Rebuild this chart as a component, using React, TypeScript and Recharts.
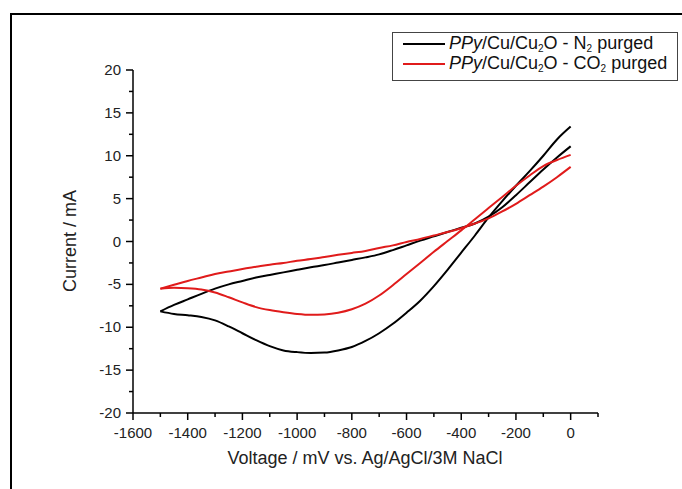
import { Label, Line, LineChart, XAxis, YAxis } from "recharts"

// potential steps (mV) for the two halves of each sweep
const vDown = [0, -50, -100, -150, -200, -250, -300, -350, -400, -450, -500, -550, -600, -650, -700, -750, -800, -850, -900, -950, -1000, -1050, -1100, -1150, -1200, -1250, -1300, -1350, -1400, -1450, -1500]
const vUp = [-1500, -1450, -1400, -1350, -1300, -1250, -1200, -1150, -1100, -1050, -1000, -950, -900, -850, -800, -750, -700, -650, -600, -550, -500, -450, -400, -350, -300, -250, -200, -150, -100, -50, 0]

// N2 purged (mA)
const n2Cathodic = [13.4, 11.9, 10.0, 8.2, 6.5, 4.7, 2.8, 0.7, -1.3, -3.3, -5.2, -6.9, -8.3, -9.6, -10.7, -11.6, -12.3, -12.7, -12.95, -13.0, -12.9, -12.7, -12.2, -11.5, -10.7, -9.9, -9.2, -8.8, -8.6, -8.45, -8.15]
const n2Anodic = [-8.15, -7.4, -6.75, -6.1, -5.5, -5.0, -4.6, -4.2, -3.9, -3.6, -3.3, -3.0, -2.75, -2.45, -2.15, -1.85, -1.5, -1.0, -0.45, 0.1, 0.6, 1.1, 1.6, 2.1, 2.9, 4.0, 5.4, 6.9, 8.4, 9.8, 11.1]

// CO2 purged (mA)
const co2Cathodic = [10.1, 9.5, 8.8, 7.7, 6.5, 5.2, 3.9, 2.6, 1.3, 0.05, -1.2, -2.5, -3.8, -5.1, -6.3, -7.25, -7.9, -8.3, -8.5, -8.55, -8.45, -8.25, -8.0, -7.65, -7.1, -6.5, -5.95, -5.6, -5.45, -5.4, -5.5]
const co2Anodic = [-5.5, -5.05, -4.6, -4.2, -3.8, -3.5, -3.2, -2.95, -2.7, -2.5, -2.25, -2.05, -1.8, -1.55, -1.33, -1.1, -0.75, -0.45, -0.05, 0.3, 0.7, 1.1, 1.55, 2.1, 2.7, 3.5, 4.4, 5.4, 6.4, 7.5, 8.7]

const xTicks = [-1600, -1500, -1400, -1300, -1200, -1100, -1000, -900, -800, -700, -600, -500, -400, -300, -200, -100, 0, 100]
const yTicks = [-20, -17.5, -15, -12.5, -10, -7.5, -5, -2.5, 0, 2.5, 5, 7.5, 10, 12.5, 15, 17.5, 20]

const toPoints = (volts: number[], amps: number[]) =>
    volts.map((v, i) => ({ v, i: amps[i] })).sort((a, b) => a.v - b.v)

const n2Down = toPoints(vDown, n2Cathodic)
const n2Up = toPoints(vUp, n2Anodic)
const co2Down = toPoints(vDown, co2Cathodic)
const co2Up = toPoints(vUp, co2Anodic)

const BLACK = "#000000"
const RED = "#e01b1b"
const FONT = '"Liberation Sans", Arial, sans-serif'

const XTick = ({ x, y, payload }: any) => {
    const major = payload.value % 200 === 0
    return (
        <g>
            <line x1={x} x2={x} y1={y} y2={y + (major ? 7 : 4)} stroke="#000" strokeWidth={1.5} />
            {major && (
                <text x={x} y={y + 25} textAnchor="middle" fontSize={15} fill="#222" fontFamily={FONT}>{payload.value}</text>
            )}
        </g>
    )
}

const YTick = ({ x, y, payload }: any) => {
    const major = payload.value % 5 === 0
    return (
        <g>
            <line x1={x - (major ? 7 : 4)} x2={x} y1={y} y2={y} stroke="#000" strokeWidth={1.5} />
            {major && (
                <text x={x - 12} y={y + 5} textAnchor="end" fontSize={15} fill="#222" fontFamily={FONT}>{payload.value}</text>
            )}
        </g>
    )
}

const Sub = ({ children }: { children: string }) => (
    <span style={{ fontSize: 10, lineHeight: "10px", display: "inline-block", transform: "translateY(3px)" }}>{children}</span>
)

export default function App() {
    return (
        <div style={{ position: "absolute", left: 0, top: 0, width: 682, height: 489, background: "#fff", fontFamily: FONT, overflow: "hidden" }}>
            <div style={{ position: "absolute", left: 10, top: 13, width: 680, height: 490, borderTop: "2px solid #000", borderLeft: "2px solid #000" }} />
            <LineChart width={682} height={489} margin={{ top: 70, right: 84, bottom: 46, left: 73 }}>
                <XAxis
                    type="number"
                    dataKey="v"
                    domain={[-1600, 100]}
                    ticks={xTicks}
                    interval={0}
                    tickSize={0}
                    tickMargin={0}
                    tick={<XTick />}
                    height={30}
                    stroke="#000"
                    strokeWidth={1.5}
                    allowDataOverflow
                >
                    <Label content={() => (
                        <text x={365} y={464} textAnchor="middle" fontSize={18} fill="#222" fontFamily={FONT}>Voltage / mV vs. Ag/AgCl/3M NaCl</text>
                    )} />
                </XAxis>
                <YAxis
                    type="number"
                    dataKey="i"
                    domain={[-20, 20]}
                    ticks={yTicks}
                    interval={0}
                    tickSize={0}
                    tickMargin={0}
                    tick={<YTick />}
                    width={60}
                    stroke="#000"
                    strokeWidth={1.5}
                    allowDataOverflow
                >
                    <Label content={() => (
                        <text x={76} y={241} transform="rotate(-90 76 241)" textAnchor="middle" fontSize={18} fill="#222" fontFamily={FONT}>Current / mA</text>
                    )} />
                </YAxis>
                <Line data={n2Down} dataKey="i" type="monotoneX" stroke={BLACK} strokeWidth={2} dot={false} isAnimationActive={false} />
                <Line data={n2Up} dataKey="i" type="monotoneX" stroke={BLACK} strokeWidth={2} dot={false} isAnimationActive={false} />
                <Line data={co2Down} dataKey="i" type="monotoneX" stroke={RED} strokeWidth={2} dot={false} isAnimationActive={false} />
                <Line data={co2Up} dataKey="i" type="monotoneX" stroke={RED} strokeWidth={2} dot={false} isAnimationActive={false} />
            </LineChart>
            <div style={{ position: "absolute", left: 392, top: 32, width: 286, height: 49, boxSizing: "border-box", border: "1px solid #444", background: "#fff", fontSize: 18, color: "#111" }}>
                {[
                    { color: BLACK, gas: "N" },
                    { color: RED, gas: "CO" },
                ].map((row, k) => (
                    <div key={k} style={{ position: "absolute", left: 10, top: 1 + k * 20, height: 19, lineHeight: "19px", display: "flex", alignItems: "center", whiteSpace: "nowrap" }}>
                        <span style={{ display: "inline-block", width: 42, height: 2, background: row.color, marginRight: 4 }} />
                        <span>
                            <i>PPy</i>/Cu/Cu<Sub>2</Sub>O - {row.gas}<Sub>2</Sub> purged
                        </span>
                    </div>
                ))}
            </div>
        </div>
    )
}
